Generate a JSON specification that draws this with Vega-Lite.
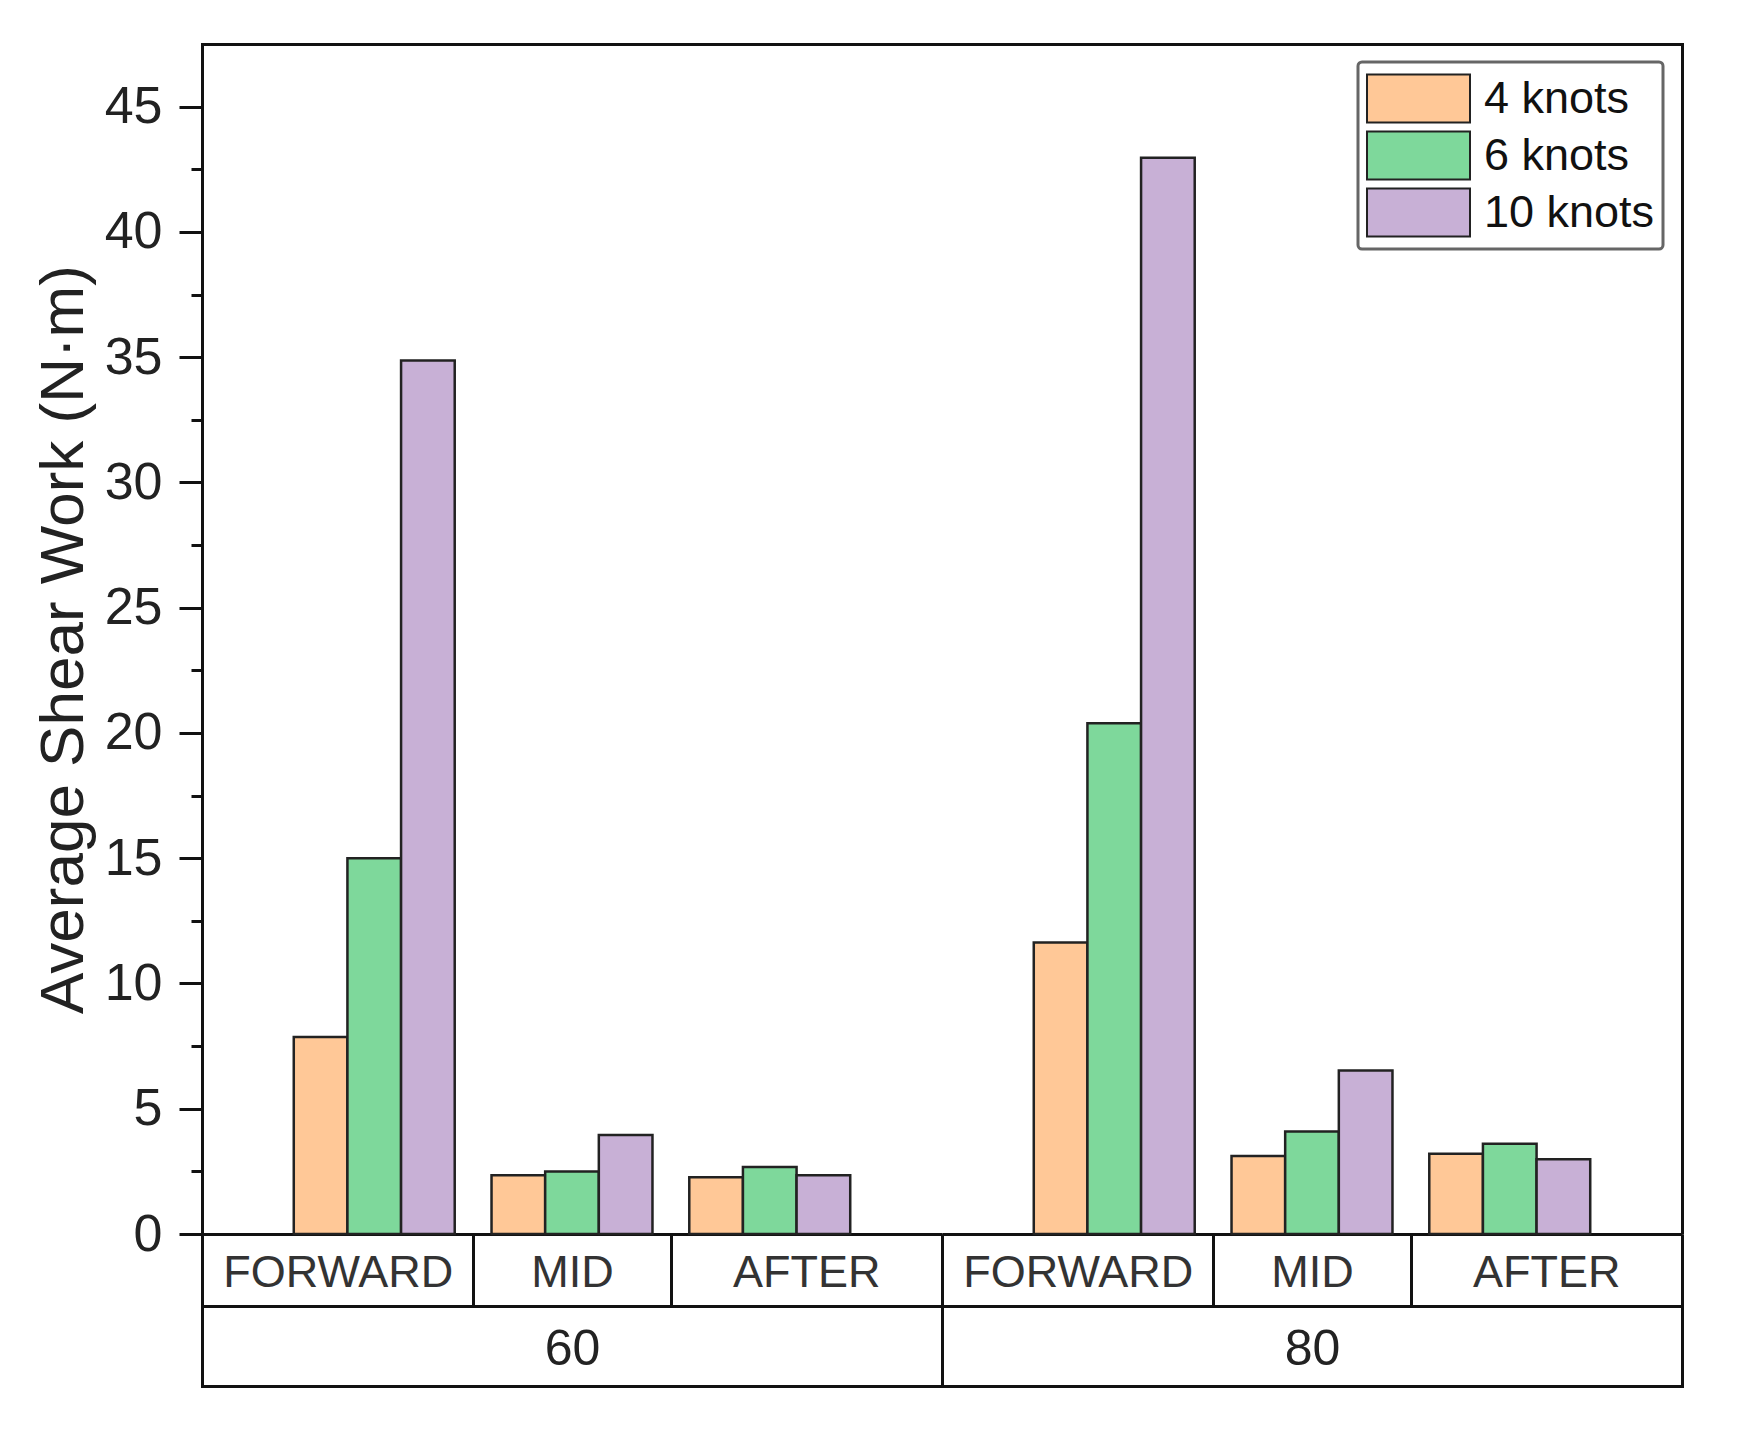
{
  "$schema": "https://vega.github.io/schema/vega-lite/v6.json",
  "autosize": {"type": "none"},
  "padding": {"left": 202, "top": 44, "right": 1540, "bottom": 1400},
  "background": "white",
  "bounds": "flush",
  "config": {
    "view": {"stroke": null},
    "font": "Liberation Sans",
    "axis": {"labelFont": "Liberation Sans", "titleFont": "Liberation Sans", "domainCap": "square"}
  },
  "data": {
    "values": [
      {"group": "60", "pos": "FORWARD", "speed": "4 knots", "value": 7.86},
      {"group": "60", "pos": "FORWARD", "speed": "6 knots", "value": 15.0},
      {"group": "60", "pos": "FORWARD", "speed": "10 knots", "value": 34.87},
      {"group": "60", "pos": "MID", "speed": "4 knots", "value": 2.35},
      {"group": "60", "pos": "MID", "speed": "6 knots", "value": 2.49},
      {"group": "60", "pos": "MID", "speed": "10 knots", "value": 3.95},
      {"group": "60", "pos": "AFTER", "speed": "4 knots", "value": 2.27},
      {"group": "60", "pos": "AFTER", "speed": "6 knots", "value": 2.67},
      {"group": "60", "pos": "AFTER", "speed": "10 knots", "value": 2.35},
      {"group": "80", "pos": "FORWARD", "speed": "4 knots", "value": 11.64},
      {"group": "80", "pos": "FORWARD", "speed": "6 knots", "value": 20.39},
      {"group": "80", "pos": "FORWARD", "speed": "10 knots", "value": 42.96},
      {"group": "80", "pos": "MID", "speed": "4 knots", "value": 3.11},
      {"group": "80", "pos": "MID", "speed": "6 knots", "value": 4.09},
      {"group": "80", "pos": "MID", "speed": "10 knots", "value": 6.53},
      {"group": "80", "pos": "AFTER", "speed": "4 knots", "value": 3.2},
      {"group": "80", "pos": "AFTER", "speed": "6 knots", "value": 3.6},
      {"group": "80", "pos": "AFTER", "speed": "10 knots", "value": 2.98}
    ]
  },
  "spacing": 0,
  "resolve": {"scale": {"x": "independent"}},
  "hconcat": [
    {
      "width": 740,
      "height": 1190,
      "transform": [{"filter": "datum.group === '60'"}],
      "resolve": {"scale": {"x": "independent"}, "axis": {"x": "independent", "y": "independent"}},
      "layer": [
        {
          "mark": {"type": "bar", "stroke": "#222222", "strokeWidth": 2.5},
          "encoding": {
            "x": {
              "field": "pos", "type": "nominal", "sort": ["FORWARD", "MID", "AFTER"],
              "scale": {"paddingInner": 0, "paddingOuter": 0.371},
              "axis": {
                "orient": "bottom", "title": null, "offset": 72,
                "domain": true, "domainColor": "#111111", "domainWidth": 3,
                "ticks": true, "tickBand": "extent", "tickSize": -72, "tickWidth": 3, "tickColor": "#111111",
                "tickOpacity": {"condition": {"test": "datum.value === 'FORWARD' || datum.value === 'MID'", "value": 1}, "value": 0},
                "labelFontSize": 45, "labelColor": "#333333", "labelPadding": 38, "labelBaseline": "middle", "labelAngle": 0, "labelLimit": 0,
                "labelOffset": {"expr": "datum.value === 'FORWARD' ? -36.5 : (datum.value === 'AFTER' ? 36.5 : 0)"}
              }
            },
            "xOffset": {
              "field": "speed", "type": "nominal", "sort": ["4 knots", "6 knots", "10 knots"],
              "scale": {"paddingInner": 0, "paddingOuter": 0.343}
            },
            "y": {
              "field": "value", "type": "quantitative",
              "scale": {"domain": [0, 47.5], "nice": false},
              "axis": {
                "orient": "left",
                "values": [0, 5, 10, 15, 20, 25, 30, 35, 40, 45],
                "domain": true, "domainColor": "#111111", "domainWidth": 3,
                "tickColor": "#111111", "tickWidth": 3, "tickSize": 23,
                "grid": true, "gridColor": "#111111", "gridWidth": 3,
                "gridOpacity": {"condition": {"test": "datum.value === 0", "value": 1}, "value": 0},
                "labelFontSize": 52, "labelColor": "#222222", "labelPadding": 17,
                "title": "Average Shear Work (N·m)", "titleFontSize": 62, "titleFontWeight": "normal", "titleColor": "#222222",
                "titleX": -107, "titleY": 595, "titleAngle": 270, "titleBaseline": "bottom", "titleAlign": "center"
              }
            },
            "color": {
              "field": "speed", "type": "nominal", "sort": ["4 knots", "6 knots", "10 knots"],
              "scale": {"domain": ["4 knots", "6 knots", "10 knots"], "range": ["#FFC897", "#7ED89B", "#C8B0D6"]},
              "legend": {
                "title": null, "orient": "none", "legendX": 1156, "legendY": 18,
                "symbolType": "M-1,-0.466H1V0.466H-1Z", "symbolSize": 10609,
                "symbolStrokeColor": "#222222", "symbolStrokeWidth": 2, "symbolOpacity": 1,
                "clipHeight": 57, "rowPadding": 0,
                "labelFontSize": 45, "labelColor": "#111111", "labelOffset": 13, "labelFont": "Liberation Sans", "labelLimit": 0,
                "padding": 8, "strokeColor": "#666666", "fillColor": "white",
                "encode": {"legend": {"update": {"strokeWidth": {"value": 3}, "cornerRadius": {"value": 4}}}}
              }
            }
          }
        },
        {
          "mark": {"type": "bar", "opacity": 0},
          "encoding": {
            "x": {
              "field": "group", "type": "nominal",
              "scale": {"paddingInner": 0, "paddingOuter": 0},
              "axis": {
                "orient": "bottom", "title": null, "offset": 152,
                "domain": true, "domainColor": "#111111", "domainWidth": 3,
                "ticks": true, "tickBand": "extent", "tickSize": -152, "tickWidth": 3, "tickColor": "#111111",
                "labelFontSize": 50, "labelColor": "#222222", "labelPadding": 115, "labelBaseline": "middle", "labelAngle": 0
              }
            },
            "y": {
              "field": "value", "type": "quantitative",
              "axis": {
                "orient": "left", "title": null,
                "values": [2.5, 7.5, 12.5, 17.5, 22.5, 27.5, 32.5, 37.5, 42.5],
                "labels": false, "domain": false, "grid": false,
                "tickColor": "#111111", "tickWidth": 3, "tickSize": 11
              }
            }
          }
        },
        {
          "mark": {"type": "rule", "opacity": 0},
          "encoding": {
            "x": {
              "field": "group", "type": "nominal",
              "scale": {"paddingInner": 0, "paddingOuter": 0},
              "axis": {
                "orient": "top", "title": null,
                "domain": true, "domainColor": "#111111", "domainWidth": 3,
                "ticks": true, "tickBand": "extent", "tickSize": -1190, "tickWidth": 3, "tickColor": "#111111",
                "tickOpacity": {"condition": {"test": "datum.value == '80'", "value": 1}, "value": 0},
                "labels": false
              }
            }
          }
        }
      ]
    },
    {
      "width": 740,
      "height": 1190,
      "transform": [{"filter": "datum.group === '80'"}],
      "resolve": {"scale": {"x": "independent"}, "axis": {"x": "independent"}},
      "layer": [
        {
          "mark": {"type": "bar", "stroke": "#222222", "strokeWidth": 2.5},
          "encoding": {
            "x": {
              "field": "pos", "type": "nominal", "sort": ["FORWARD", "MID", "AFTER"],
              "scale": {"paddingInner": 0, "paddingOuter": 0.371},
              "axis": {
                "orient": "bottom", "title": null, "offset": 72,
                "domain": true, "domainColor": "#111111", "domainWidth": 3,
                "ticks": true, "tickBand": "extent", "tickSize": -72, "tickWidth": 3, "tickColor": "#111111",
                "tickOpacity": {"condition": {"test": "datum.value === 'FORWARD' || datum.value === 'MID'", "value": 1}, "value": 0},
                "labelFontSize": 45, "labelColor": "#333333", "labelPadding": 38, "labelBaseline": "middle", "labelAngle": 0, "labelLimit": 0,
                "labelOffset": {"expr": "datum.value === 'FORWARD' ? -36.5 : (datum.value === 'AFTER' ? 36.5 : 0)"}
              }
            },
            "xOffset": {
              "field": "speed", "type": "nominal", "sort": ["4 knots", "6 knots", "10 knots"],
              "scale": {"paddingInner": 0, "paddingOuter": 0.343}
            },
            "y": {
              "field": "value", "type": "quantitative",
              "scale": {"domain": [0, 47.5], "nice": false},
              "axis": {
                "values": [0],
                "labels": false, "ticks": false, "domain": false, "title": null,
                "grid": true, "gridColor": "#111111", "gridWidth": 3
              }
            },
            "color": {
              "field": "speed", "type": "nominal", "sort": ["4 knots", "6 knots", "10 knots"],
              "scale": {"domain": ["4 knots", "6 knots", "10 knots"], "range": ["#FFC897", "#7ED89B", "#C8B0D6"]},
              "legend": {
                "title": null, "orient": "none", "legendX": 1156, "legendY": 18,
                "symbolType": "M-1,-0.466H1V0.466H-1Z", "symbolSize": 10609,
                "symbolStrokeColor": "#222222", "symbolStrokeWidth": 2, "symbolOpacity": 1,
                "clipHeight": 57, "rowPadding": 0,
                "labelFontSize": 45, "labelColor": "#111111", "labelOffset": 13, "labelFont": "Liberation Sans", "labelLimit": 0,
                "padding": 8, "strokeColor": "#666666", "fillColor": "white",
                "encode": {"legend": {"update": {"strokeWidth": {"value": 3}, "cornerRadius": {"value": 4}}}}
              }
            }
          }
        },
        {
          "mark": {"type": "rule", "opacity": 0},
          "encoding": {
            "x": {
              "field": "group", "type": "nominal",
              "scale": {"paddingInner": 0, "paddingOuter": 0},
              "axis": {
                "orient": "bottom", "title": null, "offset": 152,
                "domain": true, "domainColor": "#111111", "domainWidth": 3,
                "ticks": true, "tickBand": "extent", "tickSize": -152, "tickWidth": 3, "tickColor": "#111111",
                "labelFontSize": 50, "labelColor": "#222222", "labelPadding": 115, "labelBaseline": "middle", "labelAngle": 0
              }
            }
          }
        },
        {
          "mark": {"type": "rule", "opacity": 0},
          "encoding": {
            "x": {
              "field": "group", "type": "nominal",
              "scale": {"paddingInner": 0, "paddingOuter": 0},
              "axis": {
                "orient": "top", "title": null,
                "domain": true, "domainColor": "#111111", "domainWidth": 3,
                "ticks": true, "tickBand": "extent", "tickSize": -1190, "tickWidth": 3, "tickColor": "#111111",
                "tickOpacity": {"condition": {"test": "datum.value == '80'", "value": 1}, "value": 0},
                "labels": false
              }
            }
          }
        }
      ]
    }
  ]
}
